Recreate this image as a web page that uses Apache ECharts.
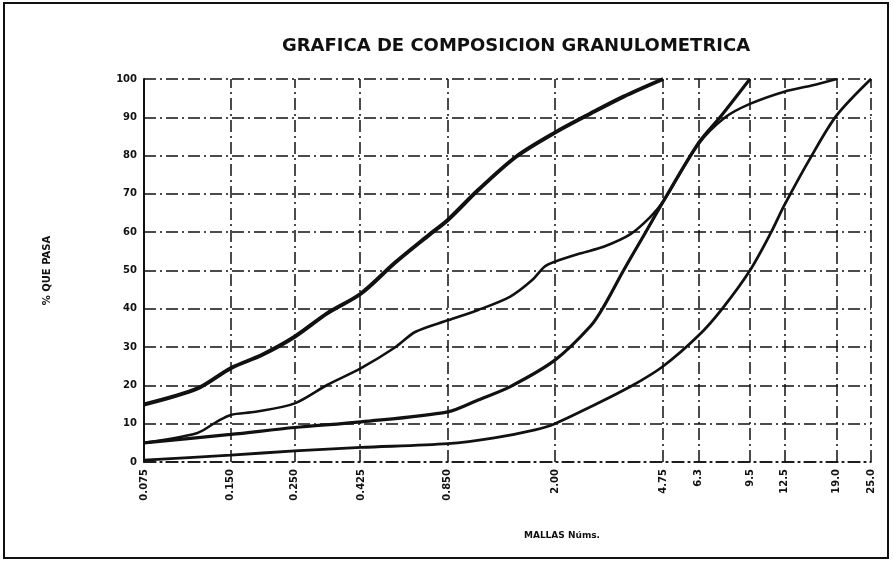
<!DOCTYPE html>
<html>
<head>
<meta charset="utf-8">
<script src="https://cdn.jsdelivr.net/npm/echarts@6/dist/echarts.min.js"></script>
<style>
  html, body { margin: 0; padding: 0; background: #fff; }
  #chart { width: 893px; height: 566px; }
</style>
</head>
<body>
<div id="chart"></div>
<script>
// Sieve openings (mm) and their printed labels
const sieves = [0.075, 0.15, 0.25, 0.425, 0.85, 2.0, 4.75, 6.3, 9.5, 12.5, 19.0, 25.0];
const sieveLabels = ['0.075', '0.150', '0.250', '0.425', '0.850', '2.00', '4.75', '6.3', '9.5', '12.5', '19.0', '25.0'];
const yTicks = [0, 10, 20, 30, 40, 50, 60, 70, 80, 90, 100];

// Gradation curves: [sieve size mm, % passing]
const curveA = [
  [0.075, 15], [0.115, 19.2], [0.15, 24.5], [0.193, 28], [0.25, 32.7], [0.324, 38.8],
  [0.425, 44], [0.557, 52], [0.732, 59.3], [0.85, 63.2], [1.083, 71], [1.466, 79.7],
  [2.0, 86], [2.66, 91], [3.46, 95.4], [4.75, 100]
];
const curveB = [
  [0.075, 5], [0.115, 7.6], [0.134, 10.5], [0.15, 12.3], [0.183, 13.1], [0.25, 15.3],
  [0.324, 20.1], [0.425, 24.5], [0.557, 29.9], [0.657, 34], [0.85, 37], [1.083, 39.7],
  [1.40, 43.2], [1.668, 47.5], [1.84, 51], [2.0, 52.3], [2.46, 54.5], [2.95, 56.2],
  [3.66, 59.5], [4.29, 64], [4.75, 68], [6.3, 83], [7.8, 90], [9.5, 93.5],
  [12.5, 96.7], [15.57, 98.3], [19.0, 100]
];
const curveC = [
  [0.075, 5], [0.15, 7.2], [0.25, 9], [0.425, 10.5], [0.85, 13.1], [1.083, 16.2],
  [1.40, 19.7], [2.0, 26.6], [2.66, 35.5], [2.95, 40.5], [3.46, 50], [4.13, 60],
  [4.75, 68], [6.3, 83.3], [7.48, 90], [9.5, 100]
];
const curveD = [
  [0.075, 0.5], [0.15, 1.8], [0.25, 2.9], [0.425, 3.8], [0.85, 4.8], [1.232, 6.3],
  [1.706, 8.4], [2.0, 10], [2.66, 14.4], [3.66, 19.7], [4.75, 25], [6.3, 33],
  [7.61, 40], [9.5, 50], [11.26, 60], [12.5, 67], [15.57, 80], [19.0, 90.5], [25.0, 100]
];

const FONT = 'DejaVu Sans';
const ink = '#111';
const dashDot = [12, 4, 2, 4];

const chart = echarts.init(document.getElementById('chart'), null, { renderer: 'canvas' });

function curve(name, data, width) {
  return {
    name: name,
    type: 'line',
    data: data,
    smooth: 0.3,
    showSymbol: false,
    symbol: 'none',
    lineStyle: { color: ink, width: width },
    z: 5,
    animation: false
  };
}

chart.setOption({
  animation: false,
  backgroundColor: '#fff',
  title: {
    text: 'GRAFICA DE COMPOSICION GRANULOMETRICA',
    left: 511,
    top: 32,
    textAlign: 'center',
    textStyle: { fontFamily: FONT, fontWeight: 'bold', fontSize: 18, color: ink }
  },
  grid: { left: 144, right: 22, top: 79, bottom: 104, containLabel: false },
  xAxis: {
    type: 'log',
    logBase: 10,
    min: sieves[0],
    max: sieves[sieves.length - 1],
    axisLine: { show: true, lineStyle: { color: ink, width: 1.5, type: dashDot } },
    axisTick: { show: false },
    splitLine: { show: false },
    minorSplitLine: { show: false },
    axisLabel: {
      customValues: sieves,
      rotate: 90,
      margin: 7,
      fontFamily: FONT,
      fontWeight: 'bold',
      fontSize: 10,
      color: ink,
      formatter: function (v) {
        let best = 0;
        for (let i = 1; i < sieves.length; i++) {
          if (Math.abs(Math.log(sieves[i] / v)) < Math.abs(Math.log(sieves[best] / v))) best = i;
        }
        return sieveLabels[best];
      }
    }
  },
  yAxis: {
    type: 'value',
    min: 0,
    max: 100,
    interval: 10,
    name: '% QUE PASA',
    nameLocation: 'middle',
    nameRotate: 90,
    nameGap: 92,
    nameTextStyle: { fontFamily: FONT, fontWeight: 'bold', fontSize: 10, color: ink },
    axisLine: { show: true, lineStyle: { color: ink, width: 2 } },
    axisTick: { show: false },
    axisLabel: { margin: 7, fontFamily: FONT, fontWeight: 'bold', fontSize: 10, color: ink },
    splitLine: { show: true, lineStyle: { color: ink, width: 1.5, type: dashDot } }
  },
  graphic: [
    {
      type: 'rect',
      shape: { x: 4, y: 3, width: 884, height: 555 },
      style: { fill: 'none', stroke: ink, lineWidth: 2 },
      silent: true
    },
    {
      type: 'text',
      x: 562,
      y: 536,
      style: {
        text: 'MALLAS Núms.',
        fontFamily: FONT,
        fontWeight: 'bold',
        fontSize: 9,
        fill: ink,
        textAlign: 'center',
        textVerticalAlign: 'middle'
      }
    }
  ],
  series: [
    {
      name: 'mallas',
      type: 'line',
      data: [],
      silent: true,
      markLine: {
        silent: true,
        symbol: ['none', 'none'],
        label: { show: false },
        lineStyle: { color: ink, width: 1.5, type: dashDot },
        data: sieves.slice(1).map(function (s) { return { xAxis: s }; })
      }
    },
    curve('A', curveA, 4),
    curve('B', curveB, 2.6),
    curve('C', curveC, 3.2),
    curve('D', curveD, 2.8)
  ]
});
</script>
</body>
</html>
